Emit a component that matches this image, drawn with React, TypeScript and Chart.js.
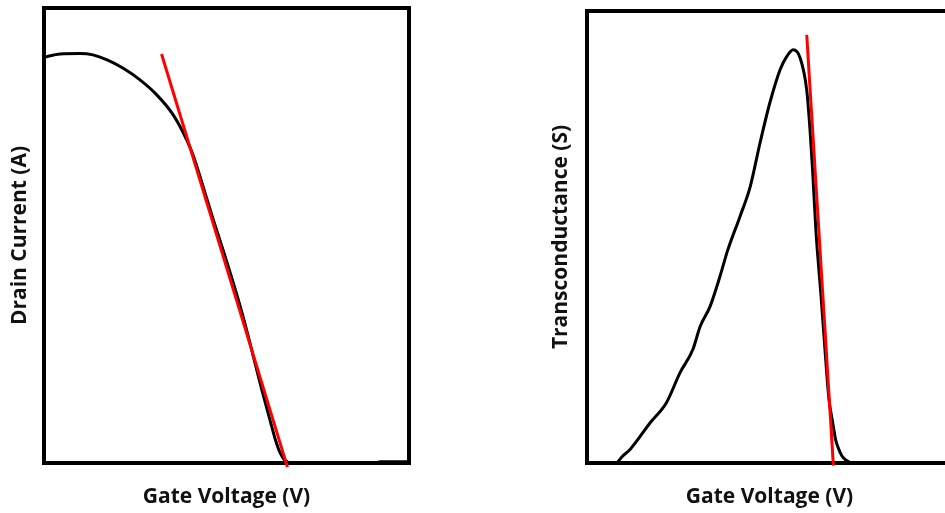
import React, { useEffect, useRef } from "react";
import { Chart, registerables } from "chart.js";

Chart.register(...registerables);

// Left panel: drain current vs gate voltage (arbitrary units, 0-100)
const idVoltage = [0, 4.4, 9.9, 13.4, 17.3, 21.6, 26.3, 30.9, 35.4, 39.1, 41.0, 43.3, 46.4, 49.3, 52.2, 54.8, 57.1, 59.7, 61.9, 63.4, 64.7, 65.9, 67.9, 90.7, 92.1, 100];
const idCurrent = [89.2, 89.9, 90.0, 89.7, 88.6, 86.8, 84.2, 80.9, 76.5, 71.0, 67.3, 61.5, 53.4, 46.2, 38.7, 31.4, 24.2, 16.0, 9.5, 5.1, 2.2, 0.7, 0, 0, 0.3, 0.3];
const idTangentX = [32.2, 66.7];
const idTangentY = [89.9, -0.9];

// Right panel: transconductance vs gate voltage (arbitrary units, 0-100)
const gmVoltage = [8.2, 9.6, 11.8, 17.3, 21.8, 25.5, 29.0, 31.0, 33.7, 36.4, 38.6, 41.9, 44.7, 47.4, 50.1, 52.9, 54.7, 56.5, 58.4, 60.2, 61.1, 61.8, 62.7, 64.2, 65.6, 66.3, 67.3, 68.1, 68.8, 69.9, 71.0, 72.6, 100];
const gmValue = [0, 1.4, 3.0, 8.9, 13.4, 20.0, 25.1, 30.2, 34.6, 41.2, 47.2, 54.5, 61.1, 70.8, 79.7, 87.0, 89.9, 91.4, 89.6, 82.5, 73.7, 64.9, 51.6, 36.1, 20.7, 14.0, 9.0, 5.2, 3.4, 1.5, 0.6, 0, 0];
const gmTangentX = [60.2, 67.5];
const gmTangentY = [94.7, -0.6];

const xTitle = "Gate Voltage (V)";
const leftYTitle = "Drain Current (A)";
const rightYTitle = "Transconductance (S)";

const FONT = { family: "'Open Sans'", size: 21, weight: "bold" as const, lineHeight: 1.2 };
const TEXT_COLOR = "#111111";

const boxPlugin = {
  id: "chartAreaBox",
  beforeDatasetsDraw(chart: any) {
    const { ctx, chartArea } = chart;
    ctx.save();
    ctx.strokeStyle = "#000000";
    ctx.lineWidth = 4;
    ctx.strokeRect(chartArea.left, chartArea.top, chartArea.right - chartArea.left, chartArea.bottom - chartArea.top);
    ctx.restore();
  },
};

type PanelProps = {
  xs: number[];
  ys: number[];
  tx: number[];
  ty: number[];
  yTitle: string;
  width: number;
  height: number;
  yAxisWidth: number;
  xAxisHeight: number;
  padding: { top: number; right: number; bottom: number; left: number };
  yTitlePad: number;
  xTitlePad: number;
};

function Panel(p: PanelProps) {
  const ref = useRef<HTMLCanvasElement>(null);
  useEffect(() => {
    if (!ref.current) return;
    const curve = p.xs.map((x, i) => ({ x, y: p.ys[i] }));
    const tangent = p.tx.map((x, i) => ({ x, y: p.ty[i] }));
    const chart = new Chart(ref.current, {
      type: "line",
      data: {
        datasets: [
          {
            data: tangent,
            borderColor: "#ff0000",
            borderWidth: 3,
            pointRadius: 0,
            clip: false as any,
            order: 0,
          },
          {
            data: curve,
            borderColor: "#000000",
            borderWidth: 3,
            pointRadius: 0,
            cubicInterpolationMode: "monotone",
            order: 1,
          },
        ],
      },
      options: {
        animation: false,
        responsive: false,
        events: [],
        layout: { padding: p.padding },
        plugins: { legend: { display: false }, tooltip: { enabled: false } },
        scales: {
          x: {
            type: "linear",
            min: 0,
            max: 100,
            grid: { display: false },
            border: { display: false },
            ticks: { display: false },
            title: { display: true, text: xTitle, color: TEXT_COLOR, font: FONT, padding: { top: 0, bottom: p.xTitlePad } },
            afterFit: (s: any) => {
              s.height = p.xAxisHeight;
            },
          },
          y: {
            type: "linear",
            min: 0,
            max: 100,
            grid: { display: false },
            border: { display: false },
            ticks: { display: false },
            title: { display: true, text: p.yTitle, color: TEXT_COLOR, font: FONT, padding: { top: p.yTitlePad, bottom: 0 } },
            afterFit: (s: any) => {
              s.width = p.yAxisWidth;
            },
          },
        },
      },
      plugins: [boxPlugin],
    } as any);
    return () => chart.destroy();
  }, []);
  return <canvas ref={ref} width={p.width} height={p.height} style={{ width: p.width, height: p.height, display: "block" }} />;
}

export default function App() {
  return (
    <div style={{ position: "fixed", left: 0, top: 0, width: 945, height: 513, overflow: "hidden", background: "#ffffff" }}>
      <div style={{ position: "absolute", left: 0, top: 0 }}>
        <Panel
          xs={idVoltage}
          ys={idCurrent}
          tx={idTangentX}
          ty={idTangentY}
          yTitle={leftYTitle}
          width={430}
          height={513}
          yAxisWidth={44}
          xAxisHeight={50}
          padding={{ top: 8, right: 21, bottom: 0, left: 0 }}
          yTitlePad={7.5}
          xTitlePad={3.5}
        />
      </div>
      <div style={{ position: "absolute", left: 540, top: 0 }}>
        <Panel
          xs={gmVoltage}
          ys={gmValue}
          tx={gmTangentX}
          ty={gmTangentY}
          yTitle={rightYTitle}
          width={420}
          height={513}
          yAxisWidth={47}
          xAxisHeight={50}
          padding={{ top: 11, right: 8, bottom: 0, left: 0 }}
          yTitlePad={8.5}
          xTitlePad={3.5}
        />
      </div>
    </div>
  );
}
